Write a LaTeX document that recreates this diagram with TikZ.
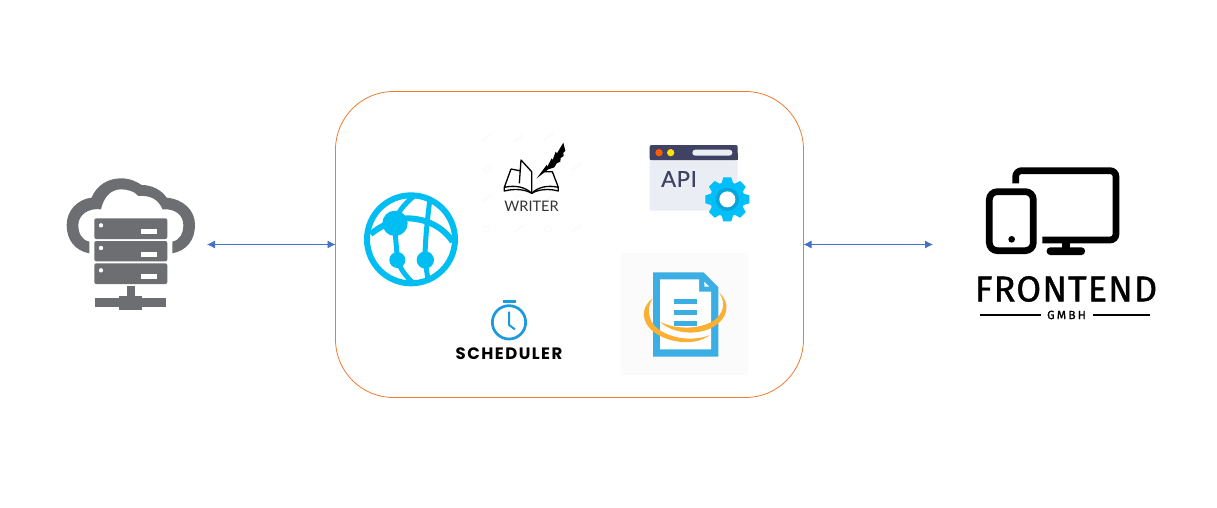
\documentclass[tikz,border=0pt]{standalone}
\usepackage{fontspec}
\usetikzlibrary{arrows.meta}
\setmainfont{Lato}
\newfontfamily\popfont{Poppins}
\newfontfamily\labelfont{Fira Sans}
\definecolor{srvgray}{HTML}{6D6E71}
\definecolor{linkblue}{HTML}{4472C4}
\definecolor{panelline}{HTML}{ED7D31}
\definecolor{globeblue}{HTML}{00BEF2}
\definecolor{apidark}{HTML}{3F4263}
\definecolor{apibody}{HTML}{EAEDF3}
\definecolor{gearblue}{HTML}{00BFFA}
\definecolor{gearring}{HTML}{0AA5D8}
\definecolor{docblue}{HTML}{3BAEE3}
\definecolor{swoosh}{HTML}{FBB034}
\definecolor{clockblue}{HTML}{1C9ADB}
\definecolor{docback}{HTML}{FBFBFB}
\definecolor{watermark}{HTML}{FAFAFA}
\tikzset{
  zoomed/.style={x=0.33333pt,y=-0.33333pt},
  link/.style={linkblue,line width=0.8pt,{Latex[length=8pt,width=8pt]}-{Latex[length=8pt,width=8pt]}},
  panel/.style={draw=panelline,line width=0.8pt,rounded corners=58pt,minimum width=468pt,minimum height=306pt,inner sep=0pt,outer sep=0pt},
  iconlabel/.style={inner sep=0pt,anchor=center}
}
\begin{document}
\begin{tikzpicture}[x=1pt,y=-1pt]
\useasboundingbox (0,0) rectangle (1217,508);
\fill[white] (0,0) rectangle (1217,508);
\node[panel] (main) at (569.5,244.5) {};
\coordinate (serverport) at (207,244.5);
\coordinate (frontendport) at (933,244.5);
\draw[link] (serverport) -- (main.west);
\draw[link] (main.east) -- (frontendport);

% server
\begin{scope}[shift={(40,160)},zoomed]
\fill[srvgray] (148,280) .. controls (105,272) and (80,240) .. (80,195)
  .. controls (80,150) and (115,117) .. (155,113)
  .. controls (170,75) and (205,55) .. (243,55)
  .. controls (270,55) and (290,65) .. (305,75)
  .. controls (335,75) and (365,90) .. (380,113)
  .. controls (430,118) and (465,150) .. (465,195)
  .. controls (465,240) and (440,272) .. (397,280)
  -- (397,245) .. controls (420,240) and (430,220) .. (430,195)
  .. controls (430,165) and (405,145) .. (368,148)
  .. controls (355,120) and (335,105) .. (295,108)
  .. controls (285,95) and (265,88) .. (243,88)
  .. controls (210,88) and (190,115) .. (183,148)
  .. controls (145,143) and (115,165) .. (115,195)
  .. controls (115,220) and (125,240) .. (148,245) -- cycle;
\foreach \t/\b in {175/237,243/304,310/372}{
  \fill[srvgray,rounded corners=2pt] (163,\t) rectangle (382,\b);
  \fill[white] (302,\t+32) rectangle (350,\t+48);
  \fill[white] (183,\t+21) circle[radius=6.5];
}
\fill[srvgray] (260,378) rectangle (285,415);
\fill[srvgray] (165,415) rectangle (378,442);
\fill[srvgray] (238,407) rectangle (306,450);
\end{scope}

% globe
\begin{scope}[shift={(350,130)},zoomed]
\draw[globeblue,line width=6pt] (183,328) circle[radius=132];
\draw[globeblue,line width=6pt] (62,312) .. controls (90,290) and (125,270) .. (170,265)
  .. controls (220,265) and (275,285) .. (308,335);
\draw[globeblue,line width=5pt] (135,280) .. controls (135,320) and (140,350) .. (142,390)
  .. controls (150,415) and (165,435) .. (185,455);
\draw[globeblue,line width=5pt] (135,280) .. controls (140,250) and (160,225) .. (190,200);
\draw[globeblue,line width=5pt] (240,205) .. controls (232,270) and (225,330) .. (225,390) -- (235,455);
\fill[globeblue] (135,280) circle[radius=38];
\fill[globeblue] (142,390) circle[radius=24];
\fill[globeblue] (226,390) circle[radius=26];
\end{scope}

% writer icon
\begin{scope}[shift={(350,130)},zoomed]
\foreach \px/\py in {410/22,595/20,505/297,680/295,595/205,410/205,680/110,505/25}{
  \draw[watermark,line width=1.6pt,line cap=round] (\px-14,\py+10) -- (\px+14,\py-10);
}
\foreach \px/\py in {410/115,505/205,410/297,595/297}{
  \draw[watermark,line width=0.8pt] (\px,\py) circle[radius=10];
}
\draw[black,line width=1.3pt,line join=round]
  (483,117) -- (463,172) .. controls (495,165) and (525,170) .. (545,190)
  .. controls (565,170) and (595,165) .. (625,172) -- (607,125) -- (580,125);
\draw[black,line width=1.3pt,line join=round]
  (463,172) -- (463,183) .. controls (495,175) and (525,178) .. (545,190)
  .. controls (565,178) and (595,175) .. (625,183) -- (625,172);
\draw[black,line width=1.3pt,line join=round]
  (483,117) -- (508,122) (508,160) -- (513,90) -- (545,125) -- (545,190);
\fill[black] (560,145) -- (590,105) -- (592,110) -- (605,85) -- (608,90) -- (617,65) -- (621,70) -- (640,38)
  -- (646,62) -- (640,68) -- (641,78) -- (632,84) -- (631,95) -- (620,100) -- (613,112) -- (595,118) -- cycle;
\end{scope}
\node[iconlabel,text=black!80,font=\fontsize{14.5}{14.5}\selectfont] (writer) at (531.5,206.5) {WRITER};

% stopwatch
\begin{scope}[shift={(350,130)},zoomed]
\draw[clockblue,line width=2.7pt] (477,577) circle[radius=50];
\fill[clockblue] (458,510) rectangle (497,518);
\draw[clockblue,line width=2pt,line join=round] (477,545) -- (477,585) -- (495,598);
\end{scope}
\node[iconlabel,font=\popfont\bfseries\addfontfeature{LetterSpace=9}\fontsize{16.5}{16.5}\selectfont] (sched) at (509,354) {SCHEDULER};

% API window
\begin{scope}[shift={(610,130)},zoomed]
\fill[apibody,rounded corners=2pt] (119,45) rectangle (383,242);
\fill[apidark,rounded corners=2pt] (119,45) rectangle (383,90);
\fill[apidark] (119,70) rectangle (383,90);
\fill[orange!50!red!85!yellow] (147,68) circle[radius=11];
\fill[yellow!85!orange] (182,68) circle[radius=11];
\fill[apibody,rounded corners=3pt] (247,59) rectangle (367,77);
\foreach \a in {0,45,...,315}{
  \fill[gearblue,rotate around={\a:(352,208)}] (340,142) -- (364,142) -- (372,170) -- (332,170) -- cycle;
}
\fill[gearblue] (352,208) circle[radius=52];
\fill[gearring] (352,208) circle[radius=35];
\fill[white] (352,208) circle[radius=24];
\end{scope}
\node[iconlabel,text=apidark,font=\addfontfeature{LetterSpace=3,FakeBold=0.6}\fontsize{22}{22}\selectfont] (api) at (679,179) {API};

% document
\begin{scope}[shift={(610,250)},zoomed]
\fill[docback] (33,10) rectangle (415,375);
\fill[docblue] (129,67) -- (280,67) -- (325,112) -- (325,320) -- (129,320) -- cycle;
\fill[white] (150,88) -- (267,88) -- (267,125) -- (303,125) -- (303,298) -- (150,298) -- cycle;
\fill[white] (283,95) -- (298,110) -- (283,110) -- cycle;
\fill[docblue] (191,148) rectangle (262,163);
\fill[docblue] (191,180) rectangle (262,196);
\fill[docblue] (191,213) rectangle (262,228);
\fill[swoosh] (128,145) .. controls (100,165) and (92,200) .. (115,230)
  .. controls (150,275) and (250,295) .. (300,255)
  .. controls (240,280) and (150,260) .. (125,215)
  .. controls (112,190) and (115,165) .. (128,145) -- cycle;
\fill[swoosh] (325,125) .. controls (355,150) and (360,190) .. (325,220)
  .. controls (280,260) and (190,255) .. (150,215)
  .. controls (195,240) and (280,240) .. (320,205)
  .. controls (345,180) and (345,150) .. (325,125) -- cycle;
\end{scope}

% frontend icon
\begin{scope}[shift={(960,160)},zoomed]
\draw[black,line width=6.7pt,rounded corners=6pt,line cap=butt] (167,70) -- (167,32) -- (468,32) -- (468,240) -- (247,240);
\fill[black] (305,245) rectangle (330,268);
\fill[black,rounded corners=3.5pt] (260,262) rectangle (375,285);
\draw[black,line width=6.7pt,rounded corners=8pt] (88,95) rectangle (220,272);
\fill[black] (155,238) circle[radius=10];
\end{scope}
\node[iconlabel,font=\labelfont\addfontfeature{LetterSpace=3.2,FakeBold=1}\fontsize{36}{36}\selectfont] (front) at (1066,289) {FRONTEND};
\node[iconlabel,font=\labelfont\addfontfeature{LetterSpace=18,FakeBold=1}\fontsize{12}{12}\selectfont] (gmbh) at (1066.5,315) {GMBH};
\fill[black] (980,314) rectangle (1040.5,316);
\fill[black] (1092.5,314) rectangle (1150,316);
\end{tikzpicture}
\end{document}
